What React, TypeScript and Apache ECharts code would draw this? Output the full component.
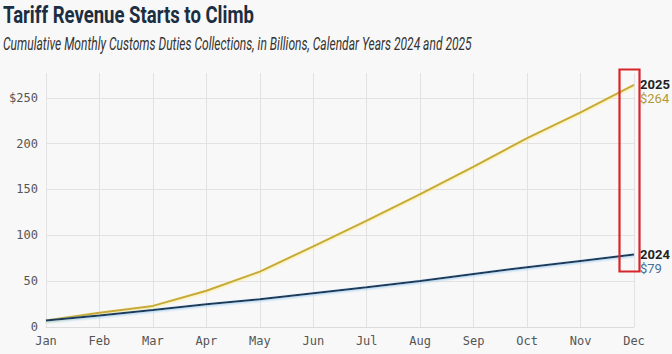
import React, { useEffect, useRef } from "react";
import * as echarts from "echarts";

const months = ["Jan", "Feb", "Mar", "Apr", "May", "Jun", "Jul", "Aug", "Sep", "Oct", "Nov", "Dec"];
const values2024 = [7, 12.5, 18.5, 24.7, 30.2, 36.8, 43.3, 50.2, 57.9, 65.2, 72, 79];
const values2025 = [7, 15.5, 23, 39.6, 60.4, 88, 116, 145, 175, 206, 234, 264];
const yTicks = [0, 50, 100, 150, 200, 250];
const seriesNames = ["2024", "2025"];

const TITLE = "Tariff Revenue Starts to Climb";
const SUBTITLE = "Cumulative Monthly Customs Duties Collections, in Billions, Calendar Years 2024 and 2025";

function measure(text: string, font: string): number {
  const c = document.createElement("canvas").getContext("2d");
  if (!c) return 1;
  c.font = font;
  return c.measureText(text).width || 1;
}

export default function App() {
  const ref = useRef<HTMLDivElement>(null);
  useEffect(() => {
    document.body.style.margin = "0";
    if (!ref.current) return;
    const chart = echarts.init(ref.current, null, { renderer: "svg" });
    const titleFont = "bold 24px Roboto";
    const subFont = "italic 18px Roboto";
    const titleScale = 251 / measure(TITLE, titleFont);
    const subScale = 469 / measure(SUBTITLE, subFont);
    const monoFont = "'DejaVu Sans Mono'";
    const endLabel = (name: string, val: number, color: string) => ({
      show: true,
      distance: 6,
      offset: [0, 7],
      formatter: () => `{a|${name}}\n{b|$${val}}`,
      rich: {
        a: { fontFamily: "Roboto", fontWeight: "bold", fontSize: 13, color: "#222", lineHeight: 14 },
        b: { fontFamily: "Roboto", fontSize: 13, color, lineHeight: 14 },
      },
    });
    chart.setOption({
      animation: false,
      backgroundColor: "#f8f8f8",
      graphic: [
        {
          type: "text",
          x: 3,
          y: 3,
          scaleX: titleScale,
          style: { text: TITLE, font: titleFont, fill: "#1c2e42" },
        },
        {
          type: "text",
          x: 3,
          y: 35,
          scaleX: subScale,
          style: { text: SUBTITLE, font: subFont, fill: "#333" },
        },
        {
          type: "rect",
          shape: { x: 619.5, y: 69.5, width: 20, height: 202 },
          style: { fill: "none", stroke: "#d7262b", lineWidth: 2.2 },
          z: 100,
        },
      ],
      grid: { left: 46, right: 38, top: 73, bottom: 27, containLabel: false },
      xAxis: {
        type: "category",
        data: months,
        boundaryGap: false,
        axisLine: { show: true, lineStyle: { color: "#dcdcdc" } },
        axisTick: { show: false },
        axisLabel: { fontFamily: monoFont, fontSize: 12, color: "#555", margin: 8 },
        splitLine: { show: true, lineStyle: { color: "#e2e2e2", width: 1 } },
      },
      yAxis: {
        type: "value",
        min: 0,
        max: 277,
        interval: 50,
        axisLine: { show: false },
        axisTick: { show: false },
        axisLabel: {
          fontFamily: monoFont,
          fontSize: 12,
          color: "#555",
          margin: 8,
          showMaxLabel: false,
          formatter: (v: number) =>
            yTicks.includes(v) ? (v === yTicks[yTicks.length - 1] ? `$${v}` : `${v}`) : "",
        },
        splitLine: {
          show: true,
          lineStyle: {
            color: ["#e2e2e2", "#e2e2e2", "#e2e2e2", "#e2e2e2", "#e2e2e2", "#e2e2e2", "rgba(0,0,0,0)"],
            width: 1,
          },
        },
      },
      series: [
        {
          name: seriesNames[0],
          type: "line",
          data: values2024,
          symbol: "none",
          lineStyle: {
            color: "#1e3b5a",
            width: 2,
            shadowColor: "rgba(150,200,240,0.9)",
            shadowBlur: 2,
            shadowOffsetY: 1,
          },
          endLabel: endLabel(seriesNames[0], values2024[values2024.length - 1], "#44709a"),
          z: 3,
        },
        {
          name: seriesNames[1],
          type: "line",
          data: values2025,
          symbol: "none",
          lineStyle: {
            color: "#c6aa38",
            width: 2,
            shadowColor: "rgba(255,235,130,0.9)",
            shadowBlur: 2,
            shadowOffsetY: 1,
          },
          endLabel: endLabel(seriesNames[1], values2025[values2025.length - 1], "#b39a36"),
          z: 2,
        },
      ],
    });
    return () => chart.dispose();
  }, []);
  return <div ref={ref} style={{ position: "absolute", left: 0, top: 0, width: 672, height: 354 }} />;
}
